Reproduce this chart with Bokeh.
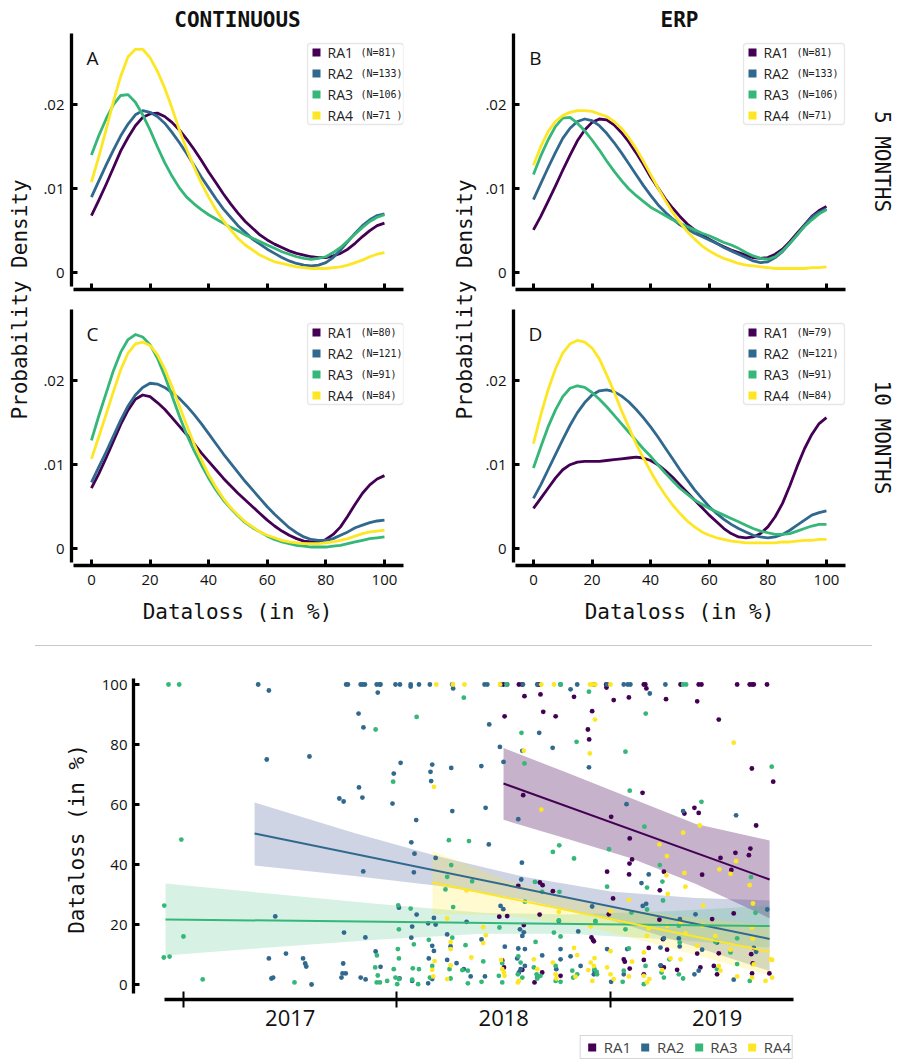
from bokeh.plotting import figure
from bokeh.layouts import row, column
from bokeh.models import (Range1d, FixedTicker, CustomJSTickFormatter, Label,
                          BoxAnnotation, Legend, LegendItem, Div)
from bokeh.embed import file_html
from bokeh.resources import INLINE
import math

MONO = "DejaVu Sans Mono"
SANS = "Open Sans"

SERIES = ["RA1", "RA2", "RA3", "RA4"]
COLORS = ["#440154", "#31688e", "#35b779", "#fde725"]
BAND_COLORS = ["#440154", "#3a5592", "#35b779", "#fde725"]
BAND_ALPHA = [0.30, 0.25, 0.20, 0.22]

# ---------------- density panels (x = dataloss in %) ----------------
DATALOSS = [0, 2.5, 5, 7.5, 10, 12.5, 15, 17.5, 20, 22.5, 25, 27.5, 30, 32.5, 35, 37.5, 40, 42.5, 45, 47.5,
            50, 52.5, 55, 57.5, 60, 62.5, 65, 67.5, 70, 72.5, 75, 77.5, 80, 82.5, 85, 87.5, 90, 92.5, 95, 97.5, 100]

A_RA1 = [.0068, .0086, .0105, .0125, .0145, .0161, .0175, .0185, .0189, .0190, .0186, .0179, .0170, .0159, .0147, .0134, .0120, .0107, .0094, .0082,
         .0071, .0061, .0053, .0045, .0039, .0034, .0030, .0026, .0023, .0021, .0019, .0018, .0018, .0020, .0023, .0028, .0035, .0043, .0050, .0056, .0059]
A_RA2 = [.0090, .0109, .0128, .0146, .0163, .0177, .0188, .0193, .0191, .0186, .0178, .0167, .0155, .0142, .0128, .0114, .0101, .0088, .0076, .0066,
         .0056, .0048, .0040, .0034, .0028, .0023, .0018, .0014, .0011, .0009, .0008, .0009, .0012, .0018, .0027, .0037, .0047, .0056, .0063, .0068, .0070]
A_RA3 = [.0140, .0163, .0183, .0200, .0211, .0212, .0203, .0188, .0170, .0150, .0131, .0115, .0101, .0090, .0082, .0075, .0069, .0064, .0059, .0054,
         .0050, .0045, .0041, .0037, .0033, .0029, .0025, .0022, .0019, .0017, .0016, .0017, .0019, .0024, .0030, .0038, .0046, .0054, .0061, .0066, .0069]
A_RA4 = [.0108, .0138, .0170, .0204, .0234, .0257, .0266, .0266, .0256, .0240, .0220, .0196, .0170, .0147, .0126, .0107, .0090, .0075, .0062, .0051,
         .0041, .0033, .0027, .0021, .0017, .0013, .0011, .0009, .0007, .0006, .0005, .0005, .0005, .0006, .0007, .0009, .0012, .0015, .0019, .0022, .0024]

B_RA1 = [.0051, .0067, .0085, .0103, .0122, .0140, .0157, .0170, .0179, .0183, .0182, .0176, .0167, .0156, .0143, .0129, .0114, .0101, .0088, .0077,
         .0067, .0058, .0051, .0045, .0040, .0035, .0031, .0027, .0024, .0021, .0018, .0017, .0018, .0022, .0028, .0037, .0047, .0057, .0067, .0074, .0079]
B_RA2 = [.0087, .0106, .0125, .0143, .0160, .0172, .0180, .0183, .0181, .0175, .0166, .0155, .0143, .0130, .0117, .0104, .0092, .0081, .0072, .0064,
         .0057, .0052, .0047, .0043, .0039, .0035, .0030, .0026, .0022, .0018, .0014, .0012, .0013, .0018, .0025, .0035, .0045, .0056, .0066, .0072, .0076]
B_RA3 = [.0117, .0139, .0158, .0174, .0184, .0185, .0178, .0169, .0158, .0146, .0133, .0121, .0110, .0100, .0092, .0085, .0078, .0073, .0068, .0063,
         .0059, .0055, .0051, .0047, .0044, .0040, .0036, .0033, .0029, .0024, .0020, .0017, .0016, .0019, .0026, .0035, .0045, .0055, .0063, .0070, .0075]
B_RA4 = [.0128, .0150, .0168, .0180, .0187, .0191, .0193, .0193, .0192, .0189, .0186, .0180, .0172, .0161, .0148, .0133, .0117, .0101, .0086, .0072,
         .0060, .0049, .0040, .0032, .0026, .0021, .0017, .0014, .0011, .0009, .0008, .0007, .0006, .0005, .0005, .0005, .0005, .0005, .0006, .0006, .0007]

C_RA1 = [.0072, .0089, .0108, .0128, .0148, .0165, .0178, .0183, .0181, .0174, .0166, .0156, .0146, .0136, .0125, .0114, .0104, .0094, .0084, .0075,
         .0066, .0058, .0050, .0042, .0034, .0027, .0021, .0016, .0012, .0009, .0008, .0008, .0011, .0017, .0026, .0039, .0053, .0066, .0076, .0083, .0087]
C_RA2 = [.0079, .0097, .0115, .0134, .0153, .0170, .0183, .0192, .0197, .0196, .0192, .0186, .0179, .0170, .0160, .0149, .0137, .0125, .0113, .0102,
         .0091, .0080, .0070, .0060, .0050, .0041, .0033, .0025, .0019, .0014, .0011, .0010, .0010, .0012, .0016, .0020, .0025, .0028, .0031, .0033, .0034]
C_RA3 = [.0129, .0158, .0185, .0212, .0234, .0249, .0255, .0252, .0243, .0227, .0206, .0182, .0158, .0136, .0117, .0100, .0084, .0070, .0058, .0048,
         .0039, .0031, .0025, .0020, .0015, .0011, .0008, .0006, .0004, .0003, .0002, .0002, .0002, .0003, .0004, .0006, .0008, .0010, .0012, .0013, .0014]
C_RA4 = [.0107, .0133, .0160, .0187, .0213, .0233, .0244, .0246, .0242, .0231, .0214, .0193, .0170, .0147, .0125, .0106, .0088, .0073, .0060, .0049,
         .0040, .0032, .0026, .0020, .0016, .0013, .0010, .0008, .0007, .0006, .0006, .0006, .0007, .0008, .0010, .0012, .0015, .0018, .0020, .0021, .0022]

D_RA1 = [.0048, .0060, .0072, .0084, .0094, .0100, .0103, .0104, .0104, .0104, .0105, .0106, .0107, .0108, .0109, .0108, .0105, .0100, .0093, .0085,
         .0076, .0067, .0058, .0049, .0040, .0032, .0024, .0018, .0014, .0013, .0014, .0018, .0026, .0038, .0054, .0075, .0098, .0119, .0136, .0149, .0156]
D_RA2 = [.0060, .0076, .0094, .0112, .0130, .0147, .0162, .0174, .0183, .0188, .0189, .0187, .0182, .0175, .0166, .0156, .0145, .0133, .0120, .0107,
         .0094, .0082, .0070, .0060, .0050, .0042, .0035, .0029, .0024, .0020, .0016, .0014, .0013, .0014, .0017, .0022, .0028, .0034, .0040, .0043, .0045]
D_RA3 = [.0096, .0121, .0145, .0165, .0181, .0191, .0194, .0192, .0186, .0178, .0169, .0159, .0149, .0139, .0129, .0119, .0110, .0100, .0090, .0081,
         .0072, .0065, .0058, .0053, .0048, .0044, .0040, .0036, .0032, .0028, .0024, .0021, .0019, .0017, .0017, .0018, .0021, .0024, .0027, .0029, .0029]
D_RA4 = [.0125, .0159, .0189, .0214, .0233, .0244, .0248, .0246, .0239, .0226, .0207, .0187, .0165, .0145, .0125, .0108, .0092, .0077, .0064, .0052,
         .0042, .0033, .0026, .0020, .0016, .0013, .0011, .0009, .0008, .0007, .0007, .0007, .0007, .0007, .0008, .0008, .0009, .0010, .0010, .0011, .0011]

N_A = ["81", "133", "106", "71 "]
N_B = ["81", "133", "106", "71"]
N_C = ["80", "121", "91", "84"]
N_D = ["79", "121", "91", "84"]

DENS_XTICKS = [0, 20, 40, 60, 80, 100]
DENS_YTICKS = [0, 0.01, 0.02]

# ---------------- panel E: dataloss over time (decimal years) ----------------
RA1_X = [2018.498, 2018.571, 2018.660, 2018.586, 2018.666, 2018.980, 2019.156, 2019.163, 2019.328, 2019.413, 2019.426, 2019.593, 2019.652, 2019.663, 2019.671, 2019.733,
         2018.597, 2018.672, 2018.829, 2018.685, 2018.743, 2018.504, 2018.914, 2018.894, 2018.900, 2018.591, 2018.568, 2018.669, 2018.682, 2018.730, 2018.479, 2018.516,
         2018.668, 2018.594, 2018.911, 2018.922, 2018.493, 2018.587, 2018.680, 2018.644, 2018.766, 2018.501,
         2018.981, 2019.168, 2019.015, 2019.086, 2019.260, 2019.406, 2019.507, 2019.662, 2019.762, 2019.150, 2019.003, 2019.090, 2019.393, 2019.413, 2019.346, 2019.682,
         2019.655, 2019.648, 2019.585, 2019.515, 2019.566, 2019.101, 2019.089, 2018.984, 2019.087, 2019.250, 2019.429, 2019.231, 2019.012, 2019.577, 2019.476, 2019.229,
         2018.992, 2019.246, 2018.918, 2019.179, 2019.265, 2019.406, 2019.507, 2019.659, 2019.062, 2019.067, 2019.156, 2019.237, 2019.250, 2019.312, 2019.421, 2019.484,
         2019.499, 2019.666, 2019.663, 2019.744, 2019.090, 2019.156]
RA1_Y = [100, 100, 100, 100, 100, 100, 100, 100, 100, 100, 100, 100, 100, 100, 100, 100,
         96.1, 96.7, 95.9, 90.9, 89.4, 89.4, 91.1, 85.0, 81.7, 63.1, 32.9, 34.0, 33.1, 31.1, 22.6, 22.8,
         23.3, 19.8, 15.7, 14.4, 8.0, 4.9, 4.0, 0.7, 2.9, 5.7,
         99.0, 98.7, 94.8, 95.7, 95.1, 94.4, 88.3, 72.0, 67.6, 63.9, 55.9, 48.7, 58.9, 57.2, 57.0, 53.0,
         45.3, 43.1, 43.9, 42.2, 38.2, 41.7, 40.3, 37.6, 36.7, 37.6, 36.6, 31.4, 28.7, 23.7, 21.8, 21.6,
         23.4, 15.1, 14.8, 12.2, 11.6, 10.3, 10.4, 10.1, 8.4, 7.6, 8.2, 6.2, 5.7, 4.9, 5.7, 6.2,
         3.4, 7.0, 3.7, 3.7, 5.3, 3.4]

RA2_X = [2017.350, 2017.400, 2017.390, 2017.590, 2017.430, 2017.400, 2017.420, 2017.412, 2017.480, 2017.560, 2017.570, 2017.575, 2017.600, 2017.730, 2017.750, 2017.752,
         2017.748, 2017.745, 2017.760, 2017.740, 2017.762, 2017.770, 2017.820, 2017.830, 2017.840, 2017.850, 2017.843, 2017.822, 2017.838, 2017.842, 2017.852, 2017.830,
         2017.853, 2017.905, 2017.918, 2017.910, 2017.900,
         2017.923, 2017.993, 2018.014, 2018.064, 2018.103, 2018.154, 2018.259, 2018.410, 2018.423, 2018.485, 2018.516, 2018.590, 2018.657, 2018.766, 2018.844, 2018.922,
         2018.064, 2018.263, 2018.813, 2018.432, 2018.666, 2018.729, 2018.482, 2018.587, 2018.499, 2018.395, 2018.254, 2018.165, 2018.017, 2017.985, 2018.157, 2018.160,
         2017.979, 2018.259, 2018.415, 2018.090, 2018.568, 2018.899, 2018.067, 2018.082, 2018.430, 2018.079, 2018.585, 2018.181, 2018.582, 2018.485, 2018.498, 2018.009,
         2018.092, 2018.173, 2018.071, 2018.146, 2018.326, 2018.181, 2018.067, 2018.235, 2018.396, 2018.576, 2018.587, 2018.594, 2018.758, 2018.849, 2018.165, 2018.173,
         2018.251, 2018.505, 2018.568, 2018.599, 2018.680, 2018.766, 2018.813, 2017.923, 2018.149, 2018.235, 2018.279, 2018.313, 2018.345, 2018.412, 2018.563, 2018.579,
         2018.599, 2018.746, 2018.766, 2018.860, 2018.146, 2018.165, 2018.071, 2018.012, 2018.571, 2018.657,
         2018.984, 2019.062, 2019.081, 2019.093, 2019.257,
         2019.184, 2019.075, 2019.340, 2019.588, 2019.145, 2019.179, 2019.151, 2019.167, 2019.398, 2019.734, 2018.914, 2019.250, 2019.320, 2019.325, 2018.984, 2019.078,
         2019.234, 2019.324, 2019.429, 2019.499, 2019.671, 2019.682, 2018.925, 2019.062, 2019.234, 2019.393, 2019.413, 2019.577, 2019.003, 2018.922]
RA2_Y = [100, 98.0, 75.0, 76.0, 22.7, 8.7, 2.3, 2.0, 10.3, 8.7, 7.0, 6.0, 0.0, 62.0, 61.0, 17.3,
         7.0, 3.7, 3.7, 2.3, 100, 100, 90.3, 100, 100, 100, 85.7, 65.7, 62.3, 37.7, 15.7, 2.3,
         1.7, 100, 100, 97.3, 11.0,
         100, 100, 100, 100, 100, 100, 100, 100, 100, 100, 100, 100, 100, 100, 100, 100,
         99.3, 98.7, 98.4, 86.7, 83.9, 78.9, 79.2, 77.9, 74.2, 72.8, 72.2, 73.3, 73.9, 70.3, 70.9, 67.8,
         60.3, 57.8, 58.9, 54.8, 55.1, 72.4, 47.4, 43.6, 46.7, 37.4, 40.6, 42.2, 35.0, 26.2, 25.1, 25.6,
         23.3, 22.2, 19.3, 20.4, 20.9, 20.0, 15.6, 16.7, 15.0, 18.4, 16.2, 17.4, 21.2, 17.7, 12.9, 11.2,
         12.7, 12.6, 12.0, 11.8, 9.7, 11.8, 9.4, 5.9, 8.7, 8.2, 7.1, 5.1, 2.7, 2.7, 8.7, 5.1,
         6.2, 5.1, 8.4, 6.2, 0.4, 1.8, 1.2, 2.0, 4.0, 2.3,
         100, 100, 100, 100, 100,
         97.0, 60.1, 57.8, 56.4, 33.8, 36.7, 26.2, 26.9, 23.4, 25.0, 26.0, 15.4, 15.4, 21.8, 11.8, 11.8,
         12.3, 12.7, 11.6, 14.0, 12.2, 10.9, 4.6, 3.4, 6.4, 3.4, 4.6, 1.6, 0.9, 3.4]

RA3_X = [2016.930, 2016.980, 2016.990, 2016.910, 2017.000, 2016.908, 2016.935, 2017.090, 2017.520, 2017.900, 2017.906, 2017.898, 2017.910, 2017.905, 2017.920,
         2018.513, 2018.766,
         2018.313, 2018.092, 2018.583, 2018.841, 2018.597, 2018.899, 2017.982, 2018.243, 2018.337, 2018.760, 2018.730, 2018.829, 2018.254, 2018.235, 2018.352, 2018.227,
         2018.646, 2018.680, 2018.761, 2018.006, 2018.064, 2018.263, 2018.599, 2018.758, 2018.930, 2018.009, 2018.480, 2018.649, 2018.735, 2018.766, 2018.079, 2018.149,
         2018.259, 2018.321, 2018.004, 2018.009, 2017.985, 2018.074, 2018.103, 2018.165, 2018.246, 2018.306, 2018.332, 2018.404, 2018.493, 2018.568, 2018.579, 2018.641,
         2018.743, 2018.821, 2017.993, 2018.009, 2017.954, 2018.001, 2018.071, 2018.099, 2018.154, 2018.251, 2018.332, 2018.396, 2018.477, 2018.493, 2018.566, 2018.587,
         2018.654, 2018.657, 2018.672, 2018.743, 2018.766, 2018.825, 2018.844, 2018.935,
         2019.340, 2019.354,
         2019.165, 2019.070, 2019.755, 2019.090, 2019.426, 2019.159, 2018.993, 2019.231, 2019.243, 2018.984, 2019.171, 2019.246, 2019.658, 2019.679, 2019.098, 2019.171,
         2019.070, 2018.929, 2019.320, 2019.593, 2019.491, 2019.324, 2019.562, 2019.086, 2019.276, 2019.164, 2019.062, 2018.925, 2019.593, 2019.239, 2019.250, 2019.320,
         2019.340, 2019.652, 2019.156, 2019.057, 2018.937, 2019.499]
RA3_Y = [100, 100, 48.3, 26.3, 16.0, 9.0, 9.3, 1.7, 0.7, 85.0, 9.7, 5.7, 3.0, 0.7, 0.7,
         100, 100,
         95.6, 89.2, 83.9, 80.9, 73.7, 97.6, 67.6, 48.1, 47.8, 46.4, 44.2, 42.0, 39.8, 35.9, 34.4, 31.7,
         34.2, 30.9, 30.9, 26.4, 25.3, 25.8, 27.6, 21.4, 20.9, 18.4, 19.0, 14.2, 17.3, 16.0, 13.4, 14.9,
         15.6, 13.1, 11.8, 8.7, 5.1, 5.4, 5.1, 6.2, 5.1, 4.8, 4.6, 7.7, 7.1, 9.4, 7.3, 5.7,
         6.2, 4.6, 2.3, 1.8, 1.2, 0.1, 1.6, 0.1, 2.3, 2.0, 0.4, 0.9, 2.9, 0.7, 3.4, 2.3,
         3.4, 2.0, 2.9, 1.2, 0.9, 2.3, 3.4, 4.2,
         100, 100,
         90.3, 77.6, 72.6, 64.6, 60.9, 52.6, 45.1, 39.8, 34.3, 32.6, 32.3, 28.0, 35.8, 23.9, 24.0, 25.0,
         18.4, 21.2, 19.6, 15.4, 14.2, 14.0, 10.7, 12.0, 8.4, 6.2, 4.6, 5.1, 6.8, 4.0, 2.3, 3.4,
         2.0, 1.2, 0.1, 0.9, 3.4, 5.1]

RA4_X = [2018.184, 2018.262, 2018.316, 2018.482, 2018.676, 2018.735, 2018.904, 2018.914, 2018.929, 2019.000,
         2018.927, 2018.903, 2018.594, 2018.173, 2018.676, 2018.326, 2018.235, 2018.404, 2018.416, 2018.404, 2018.758, 2018.907, 2018.251, 2018.251, 2018.176, 2018.165,
         2018.348, 2018.488, 2018.501, 2018.504, 2018.493, 2018.571, 2018.566, 2018.641, 2018.657, 2018.730, 2018.743, 2018.746, 2018.829, 2018.844, 2018.836, 2018.907,
         2018.922, 2018.915, 2018.896, 2018.251, 2018.235, 2018.170,
         2019.577, 2019.418, 2019.340, 2019.229, 2019.264, 2019.510, 2019.588, 2019.562, 2019.346, 2019.262, 2019.652, 2019.351, 2019.268, 2019.086, 2019.667, 2019.434,
         2019.000, 2019.328, 2019.179, 2019.171, 2019.265, 2019.351, 2019.432, 2019.491, 2019.663, 2019.666, 2019.406, 2019.562, 2019.156, 2019.000, 2018.925, 2019.101,
         2019.281, 2019.328, 2019.507, 2019.671, 2019.749, 2019.757, 2018.984, 2019.000, 2019.086, 2019.156, 2019.182, 2019.242, 2019.515, 2019.593, 2019.663, 2019.726,
         2019.757, 2019.015, 2019.171]
RA4_Y = [100, 100, 100, 100, 100, 100, 100, 100, 100, 100,
         88.3, 77.0, 77.9, 65.9, 58.3, 31.4, 22.0, 19.1, 16.4, 13.8, 24.2, 19.3, 14.2, 11.8, 7.8, 4.9,
         9.0, 8.2, 4.0, 2.9, 5.1, 1.2, 0.7, 8.4, 5.1, 7.3, 3.4, 2.0, 12.2, 9.8, 2.6, 7.3,
         6.2, 1.2, 4.8, 6.4, 1.8, 2.7,
         80.6, 53.0, 50.6, 46.7, 42.8, 38.4, 41.1, 36.9, 37.2, 36.4, 33.1, 32.6, 30.2, 28.2, 27.0, 26.3,
         24.4, 20.7, 18.7, 16.2, 19.6, 17.0, 19.6, 16.2, 19.0, 15.3, 12.9, 11.6, 10.7, 11.1, 8.8, 7.6,
         8.7, 8.4, 6.2, 6.7, 8.4, 8.2, 5.7, 3.4, 2.7, 2.9, 1.8, 4.8, 4.6, 2.7, 2.3, 1.2,
         2.3, 1.8, 0.7]

# regression fits: line ends and confidence band
RA1_FIT_X = [2018.499, 2019.745]
RA1_FIT_Y = [67.0, 35.0]
RA2_FIT_X = [2017.333, 2019.745]
RA2_FIT_Y = [50.3, 15.2]
RA3_FIT_X = [2016.916, 2019.745]
RA3_FIT_Y = [21.7, 19.5]
RA4_FIT_X = [2018.166, 2019.745]
RA4_FIT_Y = [34.0, 10.9]

RA1_BAND_X = [2018.499, 2018.8, 2019.1, 2019.4, 2019.745]
RA1_BAND_LO = [54.9, 48.5, 42.0, 33.5, 22.1]
RA1_BAND_HI = [78.8, 70.5, 62.0, 53.5, 48.0]
RA2_BAND_X = [2017.333, 2017.8, 2018.2, 2018.6, 2019.0, 2019.4, 2019.745]
RA2_BAND_LO = [39.7, 36.2, 32.8, 28.2, 21.5, 12.5, 4.5]
RA2_BAND_HI = [60.7, 50.5, 42.6, 35.8, 31.0, 28.8, 28.0]
RA3_BAND_X = [2016.916, 2017.4, 2017.9, 2018.4, 2018.8, 2019.3, 2019.745]
RA3_BAND_LO = [9.7, 12.3, 14.9, 16.9, 16.9, 14.9, 12.3]
RA3_BAND_HI = [33.7, 30.3, 26.9, 23.9, 23.3, 24.5, 26.3]
RA4_BAND_X = [2018.166, 2018.5, 2018.9, 2019.3, 2019.745]
RA4_BAND_LO = [23.5, 23.1, 19.2, 11.8, 3.0]
RA4_BAND_HI = [44.5, 35.1, 27.2, 22.8, 19.7]

YEAR_MIDS = [2017.5, 2018.5, 2019.5]
YEAR_EDGES = [2017.0, 2018.0, 2019.0]
E_YTICKS = [0, 20, 40, 60, 80, 100]

# ---------------- geometry ----------------
XR = (-6.8, 106.5)
YR = (-0.0020, 0.02848)
FW, FH = 332, 256
INK = "#111111"


def style_axis(ax, width=3.3):
    ax.axis_line_width = width
    ax.axis_line_color = "black"
    ax.major_tick_line_width = 3
    ax.major_tick_line_color = "black"
    ax.major_tick_in = 6
    ax.major_tick_out = 0
    ax.minor_tick_line_color = None
    ax.major_label_text_font = SANS
    ax.major_label_text_font_size = "15px"
    ax.major_label_text_color = INK
    ax.axis_label_text_font = MONO
    ax.axis_label_text_font_size = "21px"
    ax.axis_label_text_font_style = "normal"
    ax.axis_label_text_color = INK


def density_panel(curves, letter, ns, width, height, left, right, top, bottom,
                  title=None, show_x=False, leg_left=238, leg_top=10, leg_w=99, let_x=21):
    p = figure(width=width, height=height, x_range=Range1d(*XR), y_range=Range1d(*YR),
               toolbar_location=None, output_backend="svg",
               min_border_left=left, min_border_right=right,
               min_border_top=top, min_border_bottom=bottom)
    p.grid.visible = False
    p.outline_line_color = None
    for ys, c in zip(curves, COLORS):
        p.line(DATALOSS, ys, line_color=c, line_width=2.8, line_join="round")

    xa = p.xaxis[0]
    style_axis(xa)
    xa.bounds = (-6.1, 106.5)
    if show_x:
        xa.ticker = FixedTicker(ticks=DENS_XTICKS)
        xa.major_label_standoff = 9
        xa.axis_label = "Dataloss (in %)"
        xa.axis_label_standoff = 12
    else:
        # ticks without labels: draw them as minor ticks
        xa.ticker = FixedTicker(ticks=[], minor_ticks=DENS_XTICKS)
        xa.minor_tick_line_color = "black"
        xa.minor_tick_line_width = 3
        xa.minor_tick_in = 6
        xa.minor_tick_out = 0
        xa.major_label_standoff = 0

    ya = p.yaxis[0]
    style_axis(ya)
    ya.ticker = FixedTicker(ticks=DENS_YTICKS)
    ya.formatter = CustomJSTickFormatter(code="if (tick == 0) { return '0'; } return tick.toFixed(2).replace(/^0/, '');")
    ya.bounds = (-0.0017, 0.0285)
    ya.major_label_standoff = 7

    if title:
        p.title.text = title
        p.title.align = "center"
        p.title.text_font = MONO
        p.title.text_font_size = "21px"
        p.title.text_font_style = "bold"
        p.title.text_color = INK
        p.title.standoff = 4

    def dx(px):
        return XR[0] + px / FW * (XR[1] - XR[0])

    def dy(py):
        return YR[1] - py / FH * (YR[1] - YR[0])

    p.add_layout(Label(x=dx(let_x), y=dy(24), text=letter, text_align="center", text_baseline="middle",
                       text_font=SANS, text_font_size="19px", text_color=INK))

    p.add_layout(BoxAnnotation(left=dx(leg_left), right=dx(leg_left + leg_w), top=dy(leg_top),
                               bottom=dy(leg_top + 81), fill_color="white", fill_alpha=0.9,
                               line_color="#b0b0b0", line_width=1.3, border_radius=3))
    for i, (name, c, n) in enumerate(zip(SERIES, COLORS, ns)):
        ry = leg_top + 9 + 21 * i
        p.add_layout(BoxAnnotation(left=dx(leg_left + 5), right=dx(leg_left + 13), top=dy(ry - 4),
                                   bottom=dy(ry + 4), fill_color=c, fill_alpha=1.0, line_color=None))
        p.add_layout(Label(x=dx(leg_left + 20), y=dy(ry), text=name, text_baseline="middle",
                           text_font=SANS, text_font_size="14px", text_color="#222222"))
        p.add_layout(Label(x=dx(leg_left + 53), y=dy(ry), text="(N=" + n + ")", text_baseline="middle",
                           text_font=MONO, text_font_size="10px", text_color="#222222"))
    return p


pA = density_panel([A_RA1, A_RA2, A_RA3, A_RA4], "A", N_A, 405, 299, 36, 37, 33, 10,
                   title="CONTINUOUS", leg_left=236, leg_top=10, leg_w=96)
pB = density_panel([B_RA1, B_RA2, B_RA3, B_RA4], "B", N_B, 381, 299, 35, 14, 33, 10,
                   title="ERP", leg_left=230, leg_top=10, leg_w=101, let_x=22)
pC = density_panel([C_RA1, C_RA2, C_RA3, C_RA4], "C", N_C, 405, 341, 36, 37, 10, 75,
                   show_x=True, leg_left=236, leg_top=14, leg_w=96)
pD = density_panel([D_RA1, D_RA2, D_RA3, D_RA4], "D", N_D, 381, 341, 35, 14, 10, 75,
                   show_x=True, leg_left=230, leg_top=14, leg_w=101, let_x=22)


def label_strip(width, height, texts):
    s = figure(width=width, height=height, x_range=Range1d(0, width), y_range=Range1d(0, height),
               toolbar_location=None, output_backend="svg", min_border=0,
               x_axis_location=None, y_axis_location=None)
    s.grid.visible = False
    s.outline_line_color = None
    for xc, yc, text, ang in texts:
        s.add_layout(Label(x=xc, y=height - yc, text=text, angle=ang, text_align="center",
                           text_baseline="middle", text_font=MONO, text_font_size="21px",
                           text_color=INK))
    return s


L1 = label_strip(35, 640, [(19, 299, "Probability Density", math.pi / 2)])
L2 = label_strip(38, 640, [(24, 299, "Probability Density", math.pi / 2)])
R1 = label_strip(38, 640, [(22, 161, "5 MONTHS", -math.pi / 2), (22, 437, "10 MONTHS", -math.pi / 2)])

divider = Div(text='<div style="position:absolute;left:35px;top:5px;width:837px;height:0;'
                   'border-top:1.5px solid #c8c8c8;"></div>', width=897, height=12, margin=0)

# ---------------- panel E ----------------
EXR = (2016.766, 2019.857)
EYR = (-5, 102)
pE = figure(width=897, height=380, x_range=Range1d(*EXR), y_range=Range1d(*EYR),
            toolbar_location=None, output_backend="svg",
            min_border_left=133, min_border_right=104, min_border_top=26, min_border_bottom=33)
pE.grid.visible = False
pE.outline_line_color = None

bands = [(RA1_BAND_X, RA1_BAND_LO, RA1_BAND_HI), (RA2_BAND_X, RA2_BAND_LO, RA2_BAND_HI),
         (RA3_BAND_X, RA3_BAND_LO, RA3_BAND_HI), (RA4_BAND_X, RA4_BAND_LO, RA4_BAND_HI)]
for (bx, lo, hi), c, a in zip(bands, BAND_COLORS, BAND_ALPHA):
    pE.varea(x=bx, y1=lo, y2=hi, fill_color=c, fill_alpha=a)

pts = [(RA1_X, RA1_Y), (RA2_X, RA2_Y), (RA3_X, RA3_Y), (RA4_X, RA4_Y)]
for (xs, ys), c in zip(pts, COLORS):
    pE.scatter(xs, ys, size=4.8, fill_color=c, line_color=None)

fits = [(RA1_FIT_X, RA1_FIT_Y), (RA2_FIT_X, RA2_FIT_Y), (RA3_FIT_X, RA3_FIT_Y), (RA4_FIT_X, RA4_FIT_Y)]
for (fx, fy), c in zip(fits, COLORS):
    pE.line(fx, fy, line_color=c, line_width=2)

ex = pE.xaxis[0]
style_axis(ex)
ex.ticker = FixedTicker(ticks=YEAR_MIDS, minor_ticks=YEAR_EDGES)
ex.formatter = CustomJSTickFormatter(code="return String(Math.floor(tick));")
ex.major_tick_in = 0
ex.major_tick_out = 0
ex.minor_tick_line_color = "black"
ex.minor_tick_line_width = 2
ex.minor_tick_in = 8
ex.minor_tick_out = 8
ex.major_label_text_font_size = "22px"
ex.major_label_standoff = 2
ex.bounds = (2016.911, EXR[1])

ey = pE.yaxis[0]
style_axis(ey)
ey.ticker = FixedTicker(ticks=E_YTICKS)
ey.major_label_standoff = 6
ey.axis_label = "Dataloss (in %)"
ey.axis_label_standoff = 10
ey.bounds = (-3, 102)

pE.add_layout(Label(x=EXR[0] + (52 - 133) / 213.5, y=104, text="E", text_align="center",
                    text_baseline="middle", text_font=SANS, text_font_size="20px", text_color=INK))

# legend strip under panel E (its square markers sit outside its visible range)
pL = figure(width=897, height=28, x_range=Range1d(*EXR), y_range=Range1d(1000, 1001),
            toolbar_location=None, output_backend="svg", min_border_left=133, min_border_right=104,
            min_border_top=3, min_border_bottom=1, x_axis_location=None, y_axis_location=None)
pL.grid.visible = False
pL.outline_line_color = None
leg_r = [pL.scatter(xs, ys, marker="square", size=8, fill_color=c, line_color=None)
         for (xs, ys), c in zip(pts, COLORS)]
legend = Legend(items=[LegendItem(label=s, renderers=[r]) for s, r in zip(SERIES, leg_r)],
                orientation="horizontal", location="top_right",
                glyph_width=20, glyph_height=20, label_standoff=2, spacing=4, padding=1, margin=0,
                label_text_font=SANS, label_text_font_size="15px", label_height=20,
                border_line_color="#b0b0b0", border_line_width=1.2, background_fill_alpha=1.0)
pL.add_layout(legend)

layout = column(row(L1, column(pA, pC), L2, column(pB, pD), R1), divider, pE, pL)

with open("out.html", "w") as f:
    f.write(file_html(layout, INLINE))
